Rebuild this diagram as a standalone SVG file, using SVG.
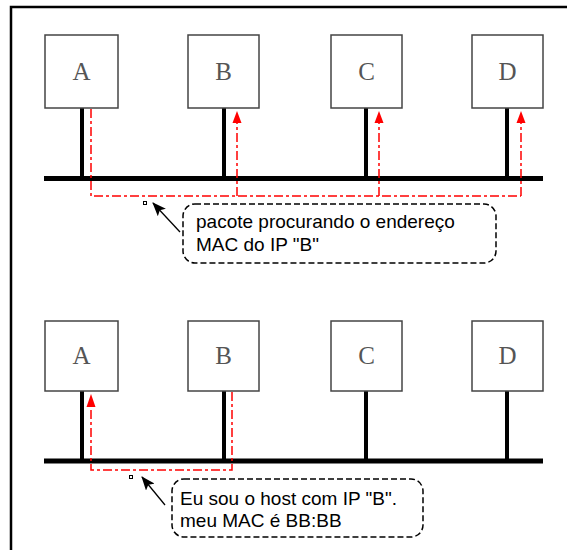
<svg xmlns="http://www.w3.org/2000/svg" width="567" height="550" viewBox="0 0 567 550">
<style>
.box{fill:#fff;stroke:#444;stroke-width:1.5}
.lbl{font-family:"Liberation Serif","Times New Roman",serif;font-size:25px;fill:#555;text-anchor:middle}
.stem{stroke:#000;stroke-width:4;fill:none}
.bus{stroke:#000;stroke-width:5;fill:none}
.red{stroke:#f00;stroke-width:1.5;fill:none;stroke-dasharray:9,3,3,3}
.rh{fill:#f00}
.call{fill:#fff;stroke:#000;stroke-width:1.5;stroke-dasharray:6,3}
.ct{font-family:"Liberation Sans",Arial,sans-serif;font-size:19px;fill:#000}
.sq{fill:#fff;stroke:#000;stroke-width:1}
.ptr{stroke:#000;stroke-width:1.3;fill:none}
</style>
<defs>
<marker id="blk" markerWidth="15" markerHeight="11" refX="13" refY="5.5" orient="auto" markerUnits="userSpaceOnUse">
<path d="M0,0 L14,5.5 L0,11 L3,5.5 Z" fill="#000"/>
</marker>
</defs>
<rect width="567" height="550" fill="#fff"/>
<g id="frame">
<path d="M11,550 L11,7 L567,7" fill="none" stroke="#000" stroke-width="2.5"/>
</g>

<g id="connectors">
<path class="bus" d="M44,178.5 L543,178.5"/>
<path class="stem" d="M82,108 V178"/>
<path class="stem" d="M224,108 V178"/>
<path class="stem" d="M366,108 V178"/>
<path class="stem" d="M507,108 V178"/>
<path class="bus" d="M44,461 L543,461"/>
<path class="stem" d="M82,391 V461"/>
<path class="stem" d="M224,391 V461"/>
<path class="stem" d="M366,391 V461"/>
<path class="stem" d="M507,391 V461"/>
<path class="red" d="M91,109 V196 H521"/>
<path class="red" d="M237,196 V122"/>
<path class="red" d="M379,196 V122"/>
<path class="red" d="M521,196 V122"/>
<polygon class="rh" points="237,111 241.5,123 232.5,123"/>
<polygon class="rh" points="379,111 383.5,123 374.5,123"/>
<polygon class="rh" points="521,111 525.5,123 516.5,123"/>
<path class="red" d="M232,392 V470 H91 V406"/>
<polygon class="rh" points="91,394 95.5,407 86.5,407"/>
<rect class="sq" x="143.5" y="201.5" width="3" height="3"/>
<path class="ptr" d="M180,232 L153,203" marker-end="url(#blk)"/>
<rect class="sq" x="129.5" y="475.5" width="3" height="3"/>
<path class="ptr" d="M165,505 L142,477" marker-end="url(#blk)"/>
</g>

<g id="nodeA1"><rect class="box" x="45" y="35" width="73" height="73"/><text class="lbl" x="81.5" y="80">A</text></g>
<g id="nodeB1"><rect class="box" x="188" y="35" width="71" height="73"/><text class="lbl" x="223.5" y="80">B</text></g>
<g id="nodeC1"><rect class="box" x="331" y="35" width="71" height="73"/><text class="lbl" x="366.5" y="80">C</text></g>
<g id="nodeD1"><rect class="box" x="472" y="35" width="71" height="73"/><text class="lbl" x="507.5" y="80">D</text></g>

<g id="nodeA2"><rect class="box" x="45" y="321" width="73" height="70"/><text class="lbl" x="81.5" y="364">A</text></g>
<g id="nodeB2"><rect class="box" x="188" y="321" width="71" height="70"/><text class="lbl" x="223.5" y="364">B</text></g>
<g id="nodeC2"><rect class="box" x="331" y="321" width="71" height="70"/><text class="lbl" x="366.5" y="364">C</text></g>
<g id="nodeD2"><rect class="box" x="472" y="321" width="71" height="70"/><text class="lbl" x="507.5" y="364">D</text></g>

<g id="callout1">
<rect class="call" x="183" y="204" width="313" height="59" rx="12"/>
<text class="ct" x="196" y="228">pacote procurando o endereço</text>
<text class="ct" x="196" y="251">MAC do IP "B"</text>
</g>
<g id="callout2">
<rect class="call" x="172" y="479" width="251" height="58" rx="12"/>
<text class="ct" x="180" y="505">Eu sou o host com IP "B".</text>
<text class="ct" x="180" y="527">meu MAC é BB:BB</text>
</g>
</svg>
